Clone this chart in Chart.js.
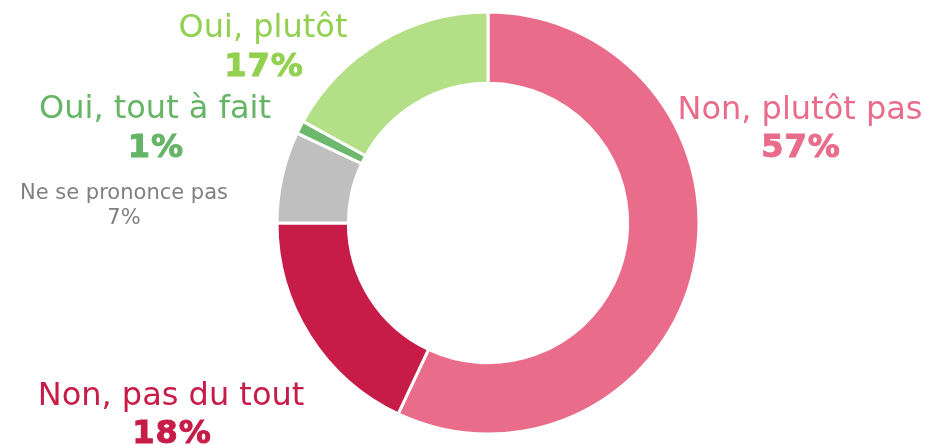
<!DOCTYPE html>
<html>
<head>
<meta charset="utf-8">
<script src="https://cdn.jsdelivr.net/npm/chart.js@4/dist/chart.umd.min.js"></script>
<style>
  html, body { margin: 0; padding: 0; background: #fff; }
  #wrap { width: 928px; height: 445px; }
</style>
</head>
<body>
<div id="wrap"><canvas id="donutChart" width="928" height="445"></canvas></div>
<script>
// DATA (clockwise from 12 o'clock)
var categories = ['Non, plutôt pas', 'Non, pas du tout', 'Ne se prononce pas', 'Oui, tout à fait', 'Oui, plutôt'];
var values = [57, 18, 7, 1, 17];

// styles
var fillColors = ['#E96C8B', '#C71C48', '#BFBFBF', '#6DB86D', '#B3E086'];
var textColors = ['#E96C8B', '#C71C48', '#808080', '#66B466', '#92D050'];
// label anchor (center x, baseline of first line), line gap, font size, bold value
var labelPos = [[800, 119], [171, 405], [124, 199], [155, 118], [263, 37]];
var labelSize = [32, 32, 21, 32, 32];
var labelGap = [38, 38, 25, 39, 39];
var labelBold = [true, true, false, true, true];

// draws the category + percent labels
var labelPlugin = {
    id: 'sliceLabels',
    afterDraw: function(chart) {
        var c = chart.ctx;
        c.save();
        c.textAlign = 'center';
        c.textBaseline = 'alphabetic';
        for (var i = 0; i < categories.length; i++) {
            var p = labelPos[i];
            c.fillStyle = textColors[i];
            c.letterSpacing = '0px';
            c.font = labelSize[i] + 'px "DejaVu Sans"';
            c.fillText(categories[i], p[0], p[1]);
            if (labelBold[i]) {
                // heavier bold, closer to Verdana Bold
                c.font = 'bold ' + labelSize[i] + 'px "DejaVu Sans"';
                c.letterSpacing = '1px';
                c.strokeStyle = textColors[i];
                c.lineWidth = 1;
                c.fillText(values[i] + '%', p[0] + 1, p[1] + labelGap[i]);
                c.strokeText(values[i] + '%', p[0] + 1, p[1] + labelGap[i]);
            } else {
                c.fillText(values[i] + '%', p[0], p[1] + labelGap[i]);
            }
        }
        c.restore();
    }
};

var ctx = document.getElementById('donutChart').getContext('2d');

var chart = new Chart(ctx, {
    type: 'doughnut',
    data: {
        labels: categories,
        datasets: [{
            data: values,
            backgroundColor: fillColors,
            borderColor: '#ffffff',
            borderWidth: 3
        }]
    },
    options: {
        responsive: false,
        animation: false,
        radius: 211,
        cutout: 138,
        layout: { padding: { left: 278, right: 230, top: 12, bottom: 11 } },
        plugins: {
            legend: { display: false },
            tooltip: { enabled: false }
        }
    },
    plugins: [labelPlugin]
});
</script>
</body>
</html>
